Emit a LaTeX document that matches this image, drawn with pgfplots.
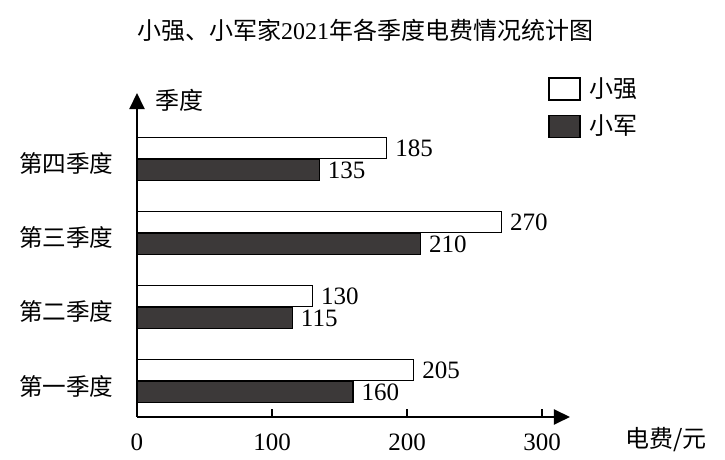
\documentclass[border=0pt]{standalone}
\usepackage{pgfplots}
\pgfplotsset{compat=1.18}
\usetikzlibrary{arrows.meta}
\usepackage{fontspec}
\setmainfont{Liberation Serif}
\newfontfamily\cjk{Noto Sans CJK SC}
\definecolor{darkbar}{HTML}{3C3939}
\begin{document}
\fontsize{12}{14}\selectfont
\begin{tikzpicture}
\begin{axis}[
  at={(0pt,0pt)}, anchor=south west,
  scale only axis, width=216.5pt, height=162pt,
  xmin=0, xmax=320.7, ymin=0.514, ymax=4.89,
  clip=false,
  axis lines=left,
  axis line style={line width=1pt, -{Triangle[length=8pt,width=7.5pt]}},
  xtick={0,100,200,300},
  xtick align=inside,
  major tick length=4pt,
  every tick/.style={line width=1pt, black},
  ytick={1,2,3,4},
  yticklabels={{\cjk 第一季度},{\cjk 第二季度},{\cjk 第三季度},{\cjk 第四季度}},
  ytick style={draw=none},
  /pgf/number format/assume math mode=true,
  xticklabel style={font=\fontsize{12.5}{14}\selectfont, yshift=-4pt},
  yticklabel style={font=\fontsize{11.8}{14}\selectfont, xshift=-5.5pt, yshift=-2.5pt},
  point meta=x,
  nodes near coords,
  nodes near coords style={font=\fontsize{12.5}{14}\selectfont, anchor=west},
  legend image code/.code={\draw[#1, line width=0.7pt] (0pt,-5.5pt) rectangle (15.5pt,5.5pt); \path (18pt,0pt);},
  legend style={draw=none, fill=none, at={(0.949,1.062)}, anchor=north west,
    row sep=3pt, inner sep=0pt, font=\fontsize{12}{14}\selectfont},
]
\addplot[xbar, bar width=10.5pt, bar shift=5.5pt, fill=white, draw=black, line width=0.7pt,
  every node near coord/.append style={yshift=5.5pt}]
  coordinates {(205,1) (130,2) (270,3) (185,4)};
\addlegendentry{\cjk 小强}
\addplot[xbar, bar width=10.5pt, bar shift=-5.5pt, fill=darkbar, draw=black, line width=0.7pt,
  every node near coord/.append style={yshift=-5.5pt}]
  coordinates {(160,1) (115,2) (210,3) (135,4)};
\addlegendentry{\cjk 小军}
\node at (rel axis cs:0.099,0.978) {\cjk 季度};
\node at (rel axis cs:1.222,-0.071) {\cjk 电费/元};
\node at (rel axis cs:0.527,1.194) {{\cjk 小强、小军家}2021{\cjk 年各季度电费情况统计图}};
\end{axis}
\pgfresetboundingbox
\path (-68.5pt,-21.5pt) rectangle (294pt,208.5pt);
\end{tikzpicture}
\end{document}
